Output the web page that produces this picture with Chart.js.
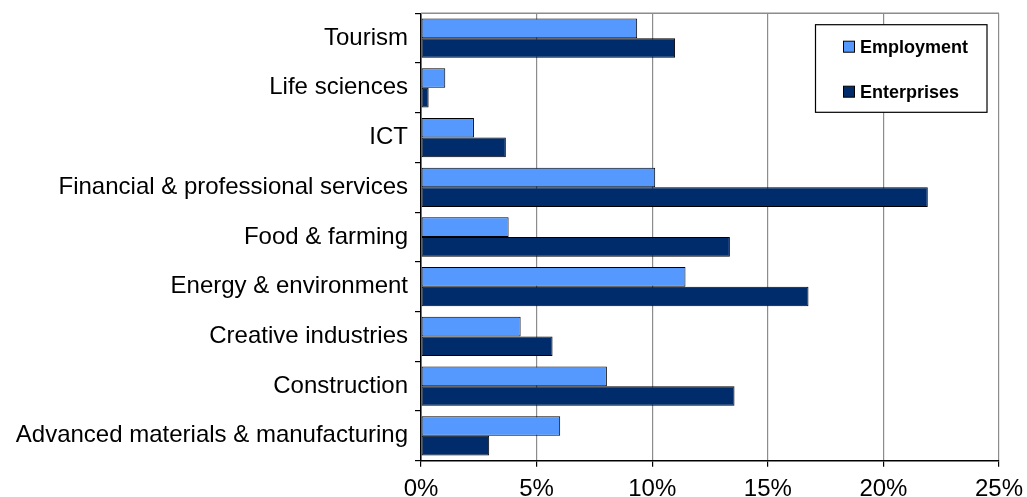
<!DOCTYPE html>
<html>
<head>
<meta charset="utf-8">
<script src="https://cdn.jsdelivr.net/npm/chart.js@4/dist/chart.umd.min.js"></script>
<style>
  html, body { margin: 0; padding: 0; background: #fff; overflow: hidden; }
  #wrap { width: 1027px; height: 497px; }
</style>
</head>
<body>
<div id="wrap"><canvas id="c" width="1027" height="497"></canvas></div>
<script>
// Share of employment and enterprises by sector (%)
const categories = [
  'Tourism',
  'Life sciences',
  'ICT',
  'Financial & professional services',
  'Food & farming',
  'Energy & environment',
  'Creative industries',
  'Construction',
  'Advanced materials & manufacturing'
];
const employment  = [9.35, 1.05, 2.29, 10.13, 3.79, 11.44, 4.31, 8.04, 6.02];
const enterprises = [10.99, 0.33, 3.67, 21.92, 13.36, 16.76, 5.69, 13.56, 2.95];
const xTicks = [0, 5, 10, 15, 20, 25];
const seriesNames = ['Employment', 'Enterprises'];
const seriesColors = ['#5599ff', '#002c6b'];

Chart.defaults.font.family = "'Liberation Sans', Arial, sans-serif";
Chart.defaults.color = '#000';

// Grey frame line along the top of the plot area
const frameTop = {
  id: 'frameTop',
  beforeDatasetsDraw(chart) {
    const { ctx, chartArea: a } = chart;
    ctx.save();
    ctx.strokeStyle = '#8c8c8c';
    ctx.lineWidth = 1.5;
    ctx.beginPath();
    ctx.moveTo(a.left, a.top);
    ctx.lineTo(a.right, a.top);
    ctx.stroke();
    ctx.restore();
  }
};

// Boxed legend inside the upper right corner of the plot
const boxLegend = {
  id: 'boxLegend',
  afterDraw(chart) {
    const { ctx, chartArea: a } = chart;
    const w = 171.5, h = 87.6;
    const x = a.right - 12 - w, y = a.top + 11.4;
    ctx.save();
    ctx.fillStyle = '#fff';
    ctx.fillRect(x, y, w, h);
    ctx.strokeStyle = '#000';
    ctx.lineWidth = 1.2;
    ctx.strokeRect(x, y, w, h);
    ctx.font = "bold 18px 'Liberation Sans', Arial, sans-serif";
    ctx.textBaseline = 'middle';
    ctx.textAlign = 'left';
    const rows = [22, 67];
    chart.data.datasets.forEach((ds, i) => {
      const cy = y + rows[i];
      ctx.fillStyle = ds.backgroundColor;
      ctx.fillRect(x + 28, cy - 5.5, 11, 11);
      ctx.strokeStyle = '#000';
      ctx.lineWidth = 1;
      ctx.strokeRect(x + 28, cy - 5.5, 11, 11);
      ctx.fillStyle = '#000';
      ctx.fillText(ds.label, x + 44.5, cy + 1);
    });
    ctx.restore();
  }
};

new Chart(document.getElementById('c'), {
  type: 'bar',
  data: {
    labels: categories,
    datasets: [
      { label: seriesNames[0], data: employment,  backgroundColor: seriesColors[0] },
      { label: seriesNames[1], data: enterprises, backgroundColor: seriesColors[1] }
    ]
  },
  options: {
    indexAxis: 'y',
    responsive: false,
    devicePixelRatio: 1,
    animation: false,
    layout: { padding: { left: 0, right: 28, top: 13.3, bottom: 0 } },
    datasets: {
      bar: {
        borderColor: '#000',
        borderWidth: 1,
        borderSkipped: false,
        categoryPercentage: 0.79,
        barPercentage: 1.0
      }
    },
    plugins: {
      legend: { display: false },
      tooltip: { enabled: false }
    },
    scales: {
      x: {
        type: 'linear',
        min: 0,
        max: 25,
        afterBuildTicks: s => { s.ticks = xTicks.map(v => ({ value: v })); },
        afterFit: s => { s.height = 36.3; s.paddingLeft = 0; s.paddingRight = 0; },
        ticks: {
          color: '#000',
          font: { size: 24 },
          padding: 8.5,
          maxRotation: 0,
          callback: v => v + '%'
        },
        grid: { color: '#8c8c8c', tickColor: '#000', tickLength: 6, lineWidth: 1.2 },
        border: { color: '#000', width: 1.5 }
      },
      y: {
        type: 'category',
        offset: true,
        afterFit: s => { s.width = 421; s.paddingTop = 0; s.paddingBottom = 0; },
        ticks: { color: '#000', font: { size: 24 }, padding: 7, autoSkip: false },
        grid: { offset: true, drawOnChartArea: false, drawTicks: true, tickLength: 6, tickColor: '#000', lineWidth: 1.2 },
        border: { color: '#000', width: 1.5 }
      }
    }
  },
  plugins: [frameTop, boxLegend]
});
</script>
</body>
</html>
